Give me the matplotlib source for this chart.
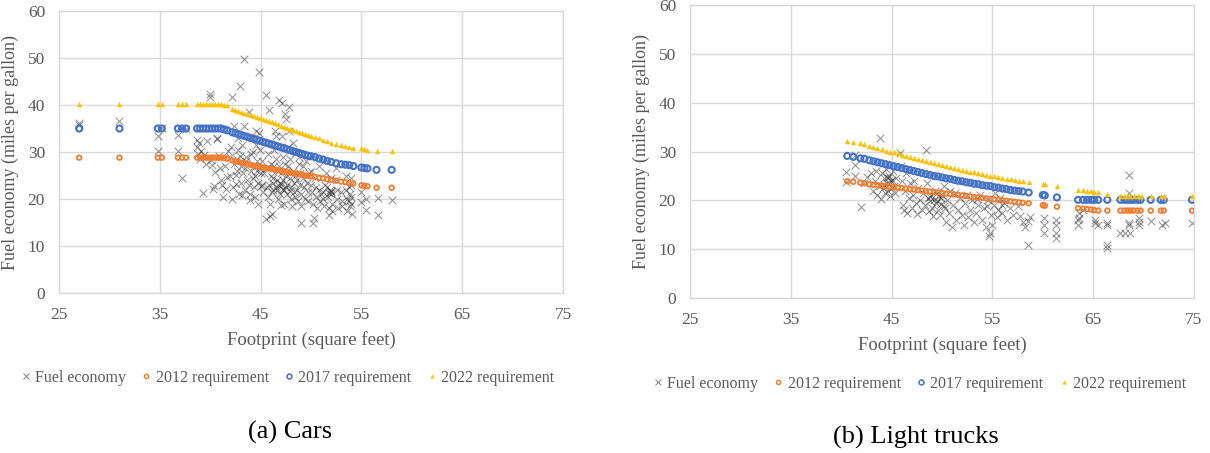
import matplotlib
matplotlib.use("Agg")
import matplotlib.pyplot as plt
from matplotlib.lines import Line2D

# ---------------- Data ----------------
# Cars: requirement curves (footprint sq ft -> mpg)
car_req_fp = [27.0, 31.0, 34.8, 35.2, 36.8, 37.2, 37.6, 38.7, 39.0, 39.3, 39.6, 39.9,
              40.2, 40.5, 40.8, 41.1, 41.4, 41.7, 42.2, 42.5, 42.8, 43.1, 43.4, 43.7,
              44.0, 44.3, 44.6, 44.9, 45.2, 45.5, 45.8, 46.1, 46.4, 46.7, 47.0, 47.3,
              47.6, 47.9, 48.2, 48.5, 48.8, 49.1, 49.4, 49.7, 50.0, 50.4, 50.8, 51.2,
              51.6, 52.0, 52.5, 53.0, 53.4, 53.8, 54.2, 55.0, 55.3, 55.6, 56.5, 58.0]
car_req_2012 = [28.8, 28.8, 28.8, 28.8, 28.8, 28.8, 28.8, 28.8, 28.8, 28.8, 28.8, 28.8,
                28.8, 28.8, 28.8, 28.8, 28.7, 28.6, 28.2, 28.0, 27.9, 27.7, 27.6, 27.4,
                27.3, 27.1, 27.0, 26.9, 26.7, 26.6, 26.5, 26.4, 26.2, 26.1, 26.0, 25.9,
                25.8, 25.6, 25.5, 25.4, 25.3, 25.2, 25.0, 24.9, 24.8, 24.7, 24.5, 24.4,
                24.2, 24.1, 23.9, 23.7, 23.6, 23.4, 23.3, 22.9, 22.8, 22.7, 22.4, 22.4]
car_req_2017 = [35.0, 35.0, 35.0, 35.0, 35.0, 35.0, 35.0, 35.0, 35.0, 35.0, 35.0, 35.0,
                35.0, 35.0, 35.0, 35.0, 34.8, 34.6, 34.2, 34.0, 33.8, 33.6, 33.4, 33.2,
                33.0, 32.8, 32.6, 32.4, 32.2, 32.0, 31.8, 31.6, 31.4, 31.2, 31.0, 30.8,
                30.6, 30.4, 30.2, 30.0, 29.8, 29.6, 29.4, 29.2, 29.1, 28.9, 28.6, 28.4,
                28.1, 27.9, 27.6, 27.4, 27.3, 27.2, 27.0, 26.7, 26.6, 26.5, 26.2, 26.2]
car_req_2022 = [40.3, 40.3, 40.3, 40.3, 40.3, 40.3, 40.3, 40.3, 40.3, 40.3, 40.3, 40.3,
                40.3, 40.3, 40.3, 40.3, 40.1, 39.9, 39.2, 39.0, 38.8, 38.6, 38.3, 38.1,
                37.8, 37.6, 37.4, 37.2, 37.0, 36.8, 36.6, 36.3, 36.1, 35.9, 35.6, 35.4,
                35.2, 35.0, 34.7, 34.5, 34.3, 34.1, 33.9, 33.7, 33.5, 33.2, 32.9, 32.6,
                32.3, 32.0, 31.7, 31.4, 31.2, 31.0, 30.9, 30.8, 30.6, 30.4, 30.2, 30.2]

# Cars: observed fuel economy
car_fe_fp = [
    27.0, 27.0, 31.0, 34.8, 34.8, 35.2, 36.8, 36.8, 37.2, 37.6,
    38.7, 38.7, 38.8, 38.9, 39.0, 39.1, 39.3, 39.4, 39.6, 39.7,
    40.0, 40.0, 40.1, 40.2, 40.3, 40.4, 40.5, 40.7, 40.7, 40.9,
    41.0, 41.1, 41.2, 41.3, 41.5, 41.6, 41.7, 41.8, 42.0, 42.0,
    42.1, 42.2, 42.2, 42.3, 42.4, 42.4, 42.6, 42.6, 42.7, 42.7,
    42.8, 42.8, 42.9, 43.0, 43.0, 43.1, 43.1, 43.2, 43.2, 43.3,
    43.4, 43.4, 43.5, 43.5, 43.6, 43.6, 43.7, 43.8, 43.8, 43.9,
    43.9, 44.0, 44.0, 44.1, 44.2, 44.2, 44.3, 44.3, 44.4, 44.4,
    44.5, 44.5, 44.6, 44.6, 44.7, 44.7, 44.8, 44.8, 44.9, 44.9,
    45.0, 45.0, 45.1, 45.1, 45.2, 45.3, 45.5, 45.5, 45.6, 45.6,
    45.7, 45.7, 45.8, 45.8, 45.9, 45.9, 46.0, 46.0, 46.1, 46.1,
    46.2, 46.2, 46.3, 46.3, 46.4, 46.5, 46.5, 46.6, 46.6, 46.7,
    46.7, 46.8, 46.8, 46.9, 46.9, 47.0, 47.0, 47.1, 47.1, 47.2,
    47.2, 47.3, 47.3, 47.4, 47.4, 47.5, 47.5, 47.6, 47.6, 47.7,
    47.7, 47.8, 47.8, 47.9, 47.9, 48.0, 48.0, 48.1, 48.2, 48.2,
    48.3, 48.3, 48.4, 48.4, 48.5, 48.6, 48.6, 48.7, 48.8, 48.8,
    48.9, 48.9, 49.0, 49.0, 49.0, 49.2, 49.2, 49.3, 49.4, 49.5,
    49.6, 49.7, 49.7, 49.8, 50.0, 50.0, 50.1, 50.2, 50.2, 50.3,
    50.4, 50.5, 50.5, 50.6, 50.8, 50.8, 50.9, 51.0, 51.2, 51.2,
    51.3, 51.4, 51.5, 51.6, 51.7, 51.8, 51.8, 52.0, 52.0, 52.1,
    52.1, 52.0, 51.9, 52.5, 52.5, 52.6, 52.6, 52.7, 53.0, 53.1,
    53.1, 53.5, 53.5, 53.6, 53.6, 53.8, 53.8, 53.9, 53.9, 54.0,
    54.0, 54.0, 54.0, 54.1, 55.0, 55.0, 55.5, 55.5, 56.6, 56.6,
    58.0, 46.5, 46.8, 47.0, 47.2, 47.5, 51.8, 52.0, 46.2, 47.9]
car_fe_mpg = [
    36.2, 35.8, 36.5, 33.5, 30.2, 35.1, 33.6, 30.2, 24.5, 35.0,
    32.6, 31.0, 29.6, 32.0, 28.6, 30.3, 21.2, 29.4, 27.4, 32.3,
    42.3, 41.7, 28.4, 27.2, 22.2, 22.8, 25.8, 33.0, 32.7, 29.1,
    26.5, 24.1, 23.0, 20.4, 27.1, 22.1, 24.6, 30.3, 25.0, 29.0,
    31.1, 41.6, 20.0, 22.6, 27.5, 35.5, 23.1, 25.1, 26.0, 28.6,
    30.5, 33.0, 21.0, 44.0, 29.1, 23.5, 27.0, 20.8, 31.5, 25.5,
    49.7, 35.5, 22.0, 26.5, 28.0, 29.0, 24.0, 38.5, 23.0, 21.0,
    19.8, 26.0, 29.5, 33.0, 24.5, 30.0, 27.0, 22.5, 25.0, 20.5,
    34.5, 31.5, 28.0, 26.0, 23.5, 19.0, 47.0, 34.0, 30.5, 26.5,
    22.8, 25.5, 28.0, 23.0, 21.5, 25.5, 42.2, 15.8, 22.5, 26.5,
    29.5, 20.5, 39.0, 23.0, 19.0, 16.3, 25.0, 27.5, 21.5, 16.8,
    22.0, 24.5, 27.0, 30.5, 34.5, 33.5, 28.5, 24.0, 22.0, 20.0,
    26.0, 41.0, 27.0, 23.5, 21.0, 25.5, 18.8, 40.4, 33.5, 29.0,
    24.0, 22.0, 19.0, 27.5, 38.0, 37.0, 25.0, 23.0, 21.0, 27.0,
    31.0, 39.6, 34.5, 28.5, 24.5, 22.5, 20.0, 18.5, 32.0, 26.0,
    23.5, 21.5, 20.5, 25.0, 30.0, 24.0, 22.0, 19.5, 27.5, 29.0,
    25.5, 23.0, 21.0, 18.5, 14.8, 27.0, 24.5, 22.5, 20.0, 28.0,
    23.5, 21.5, 19.5, 25.5, 26.0, 23.0, 21.5, 19.0, 14.8, 16.0,
    24.5, 22.5, 20.5, 18.0, 27.0, 22.0, 19.5, 21.0, 21.5, 20.0,
    18.5, 23.0, 25.5, 22.5, 20.5, 18.0, 16.5, 24.5, 21.0, 19.0,
    17.5, 21.5, 22.0, 26.5, 24.0, 22.0, 20.0, 18.0, 21.5, 19.5,
    18.5, 25.0, 22.0, 20.0, 17.5, 22.5, 19.5, 21.0, 18.5, 24.5,
    23.0, 20.5, 19.0, 16.8, 19.4, 21.5, 17.6, 20.0, 20.2, 16.7,
    19.7, 22.5, 22.8, 23.2, 22.2, 22.6, 21.2, 21.8, 23.5, 21.8]

# Light trucks: requirement curves
trk_req_fp = [40.6, 41.2, 41.9, 42.3, 42.8, 43.2, 43.6, 44.0, 44.4, 44.8, 45.2, 45.6,
              46.0, 46.4, 46.8, 47.2, 47.6, 48.0, 48.4, 48.8, 49.2, 49.6, 50.0, 50.4,
              50.8, 51.2, 51.6, 52.0, 52.4, 52.8, 53.2, 53.6, 54.0, 54.4, 54.8, 55.2,
              55.6, 56.0, 56.4, 56.8, 57.2, 57.6, 58.0, 58.6, 60.0, 60.2, 61.4, 63.5,
              64.0, 64.4, 64.8, 65.1, 65.5, 66.4, 67.7, 68.1, 68.4, 68.7, 69.0, 69.4,
              69.7, 70.7, 71.7, 72.0, 74.8]
trk_req_2012 = [23.9, 23.8, 23.6, 23.5, 23.3, 23.2, 23.1, 23.0, 22.9, 22.8, 22.7, 22.6,
                22.5, 22.4, 22.3, 22.2, 22.1, 22.0, 21.9, 21.8, 21.7, 21.6, 21.5, 21.4,
                21.3, 21.2, 21.1, 21.0, 20.9, 20.8, 20.7, 20.6, 20.5, 20.4, 20.3, 20.2,
                20.1, 20.0, 19.9, 19.8, 19.7, 19.6, 19.5, 19.4, 19.0, 18.9, 18.7, 18.4,
                18.3, 18.2, 18.1, 18.0, 17.9, 17.9, 17.9, 17.9, 17.9, 17.9, 17.9, 17.9,
                17.9, 17.9, 17.9, 17.9, 17.9]
trk_req_2017 = [29.1, 28.9, 28.6, 28.5, 28.2, 28.0, 27.8, 27.6, 27.4, 27.2, 27.0, 26.8,
                26.6, 26.4, 26.2, 26.0, 25.8, 25.6, 25.4, 25.2, 25.0, 24.9, 24.7, 24.5,
                24.4, 24.2, 24.0, 23.9, 23.7, 23.6, 23.4, 23.3, 23.1, 23.0, 22.9, 22.7,
                22.6, 22.4, 22.3, 22.1, 22.0, 21.9, 21.8, 21.6, 21.1, 21.0, 20.6, 20.1,
                20.1, 20.1, 20.1, 20.1, 20.1, 20.1, 20.1, 20.1, 20.1, 20.1, 20.1, 20.1,
                20.1, 20.1, 20.1, 20.1, 20.1]
trk_req_2022 = [32.2, 32.0, 31.7, 31.5, 31.2, 31.0, 30.7, 30.5, 30.2, 30.0, 29.8, 29.6,
                29.3, 29.1, 28.9, 28.7, 28.5, 28.3, 28.1, 27.9, 27.7, 27.5, 27.3, 27.1,
                26.9, 26.7, 26.5, 26.3, 26.1, 25.9, 25.7, 25.5, 25.3, 25.2, 25.0, 24.9,
                24.7, 24.6, 24.4, 24.3, 24.1, 24.0, 23.9, 23.8, 23.4, 23.3, 22.9, 22.2,
                22.1, 22.0, 21.9, 21.8, 21.7, 21.3, 20.9, 20.9, 20.9, 20.9, 20.9, 20.9,
                20.9, 20.9, 20.9, 20.9, 20.9]

# Light trucks: observed fuel economy
trk_fe_fp = [
    40.5, 40.5, 41.4, 41.4, 41.4, 42.0, 42.3, 42.6, 43.0, 43.2,
    43.4, 43.5, 43.6, 43.8, 43.8, 43.9, 44.0, 44.1, 44.2, 44.3,
    44.4, 44.5, 44.6, 44.7, 44.8, 44.9, 45.0, 45.1, 45.2, 45.3,
    45.8, 45.9, 46.0, 46.1, 46.2, 46.3, 46.4, 46.5, 46.7, 46.8,
    47.0, 47.1, 47.2, 47.4, 47.5, 47.6, 47.8, 48.0, 48.1, 48.3,
    48.4, 48.5, 48.6, 48.7, 48.8, 48.9, 49.0, 49.1, 49.2, 49.3,
    49.4, 49.5, 49.6, 49.7, 49.8, 49.9, 50.0, 50.2, 50.3, 50.4,
    50.5, 50.7, 50.8, 51.0, 51.1, 51.3, 51.4, 51.6, 51.8, 52.0,
    52.2, 52.3, 52.5, 52.6, 52.8, 53.0, 53.2, 53.4, 53.6, 53.8,
    54.0, 54.2, 54.4, 54.6, 54.7, 54.8, 54.9, 55.0, 55.2, 55.3,
    55.5, 55.6, 55.8, 56.0, 56.2, 56.4, 56.7, 57.0, 57.7, 58.0,
    58.2, 58.5, 58.5, 58.7, 60.1, 60.1, 60.1, 61.3, 61.3, 61.3,
    61.3, 63.5, 63.5, 63.6, 63.6, 64.0, 65.2, 65.2, 65.5, 66.4,
    66.4, 66.4, 66.4, 67.7, 68.2, 68.7, 68.6, 68.6, 68.6, 68.6,
    69.5, 69.5, 69.5, 70.7, 71.8, 72.1, 74.8, 44.5, 45.0, 48.8,
    44.2, 44.6, 45.4, 49.5, 49.9, 50.2, 53.5, 54.5, 56.0, 57.5]
trk_fe_mpg = [
    25.9, 23.8, 29.3, 27.2, 24.9, 18.7, 23.5, 24.8, 25.5, 22.0,
    24.0, 26.0, 21.0, 32.7, 23.0, 20.3, 25.5, 22.5, 24.5, 21.5,
    26.5, 23.5, 22.0, 25.0, 20.8, 24.0, 22.5, 26.0, 23.0, 21.5,
    29.7, 27.0, 24.0, 19.0, 18.0, 22.0, 25.5, 17.5, 20.5, 23.5,
    18.5, 21.0, 24.0, 19.5, 17.2, 22.5, 20.0, 18.0, 21.5, 19.0,
    30.3, 23.5, 20.5, 17.8, 19.8, 21.0, 18.5, 16.7, 20.0, 22.0,
    19.5, 21.5, 18.0, 20.8, 17.0, 19.2, 21.0, 23.0, 18.5, 15.5,
    20.0, 17.5, 22.0, 14.5, 19.0, 21.5, 16.0, 18.0, 20.5, 17.0,
    15.0, 19.5, 21.0, 16.5, 18.0, 20.0, 15.5, 17.5, 19.0, 21.0,
    16.0, 18.5, 14.5, 20.0, 12.6, 13.4, 17.0, 15.0, 19.0, 21.5,
    16.5, 18.0, 20.5, 17.5, 19.5, 16.0, 18.5, 17.0, 16.7, 15.5,
    14.6, 15.8, 10.9, 16.5, 16.3, 15.0, 13.3, 16.0, 15.0, 13.3,
    12.3, 16.0, 15.0, 17.4, 16.3, 18.0, 16.0, 15.3, 15.0, 15.3,
    14.9, 10.9, 10.2, 13.3, 13.3, 13.3, 15.3, 15.0, 21.4, 25.2,
    16.3, 15.6, 14.9, 15.7, 15.0, 15.3, 15.3, 24.8, 24.2, 20.6,
    23.2, 24.6, 24.5, 19.8, 20.5, 18.8, 20.3, 18.9, 19.0, 18.8]

x_ticks = [25, 35, 45, 55, 65, 75]
y_ticks = [0, 10, 20, 30, 40, 50, 60]
series_labels = ["Fuel economy", "2012 requirement", "2017 requirement", "2022 requirement"]
x_title = "Footprint (square feet)"
y_title = "Fuel economy (miles per gallon)"
captions = ["(a) Cars", "(b) Light trucks"]

# ---------------- Style ----------------
C_FE = "#262626"
C_2012 = "#ED7D31"
C_2017 = "#4472C4"
C_2022 = "#FFC000"
TXT = "#595959"
GRID = "#D9D9D9"
SERIF = ["Liberation Serif", "DejaVu Serif"]

W, H = 1210, 453
fig = plt.figure(figsize=(W / 100, H / 100), dpi=100)


def add_ax(x0, y0, x1, y1):
    return fig.add_axes([x0 / W, 1 - y1 / H, (x1 - x0) / W, (y1 - y0) / H])


def draw(ax, fe_fp, fe_mpg, r_fp, r12, r17, r22):
    ax.scatter(fe_fp, fe_mpg, marker="x", s=30, c=C_FE, alpha=0.5,
               linewidths=0.75, zorder=2)
    ax.scatter(r_fp, r12, marker="o", s=11, facecolors="none",
               edgecolors=C_2012, linewidths=1.3, zorder=3)
    ax.scatter(r_fp, r17, marker="o", s=19, facecolors="none",
               edgecolors=C_2017, linewidths=1.5, zorder=4)
    ax.scatter(r_fp, r22, marker="^", s=15, c=C_2022, linewidths=0, zorder=5)
    ax.set_xlim(25, 75)
    ax.set_ylim(0, 60)
    ax.set_xticks(x_ticks)
    ax.set_yticks(y_ticks)
    ax.grid(True, color=GRID, linewidth=1.0, zorder=0)
    ax.set_axisbelow(True)
    for sp in ax.spines.values():
        sp.set_color(GRID)
        sp.set_linewidth(1.0)
    ax.tick_params(length=0, labelsize=12.5, labelcolor=TXT, pad=10)
    for lab in ax.get_xticklabels() + ax.get_yticklabels():
        lab.set_fontfamily(SERIF)
    ax.set_xlabel(x_title, fontsize=13.5, color=TXT, family=SERIF, labelpad=6)
    ax.set_ylabel(y_title, fontsize=13, color=TXT, family=SERIF, labelpad=6)


ax1 = add_ax(59, 11, 563, 293)
draw(ax1, car_fe_fp, car_fe_mpg, car_req_fp, car_req_2012, car_req_2017, car_req_2022)
ax2 = add_ax(690, 5, 1194, 298)
draw(ax2, trk_fe_fp, trk_fe_mpg, trk_req_fp, trk_req_2012, trk_req_2017, trk_req_2022)

handles = [
    Line2D([], [], ls="none", marker="x", color="#808080", ms=4, mew=0.7),
    Line2D([], [], ls="none", marker="o", mfc="none", mec=C_2012, ms=3, mew=1.0),
    Line2D([], [], ls="none", marker="o", mfc="none", mec=C_2017, ms=3.5, mew=1.1),
    Line2D([], [], ls="none", marker="^", color=C_2022, ms=3, mew=0),
]

for ax, cx, cy in [(ax1, 288, 378), (ax2, 920, 384)]:
    leg = ax.legend(handles, series_labels, loc="center",
                    bbox_to_anchor=(cx / W, 1 - cy / H), bbox_transform=fig.transFigure,
                    ncol=4, frameon=False, handlelength=0.5, handletextpad=0.35,
                    columnspacing=1.0, borderpad=0, prop={"family": SERIF, "size": 11.5})
    for t in leg.get_texts():
        t.set_color(TXT)

fig.text(290 / W, 1 - 432 / H, captions[0], ha="center", va="center",
         fontsize=19, family=SERIF, color="black")
fig.text(916 / W, 1 - 437 / H, captions[1], ha="center", va="center",
         fontsize=19, family=SERIF, color="black")

fig.savefig("out.png", dpi=100)
